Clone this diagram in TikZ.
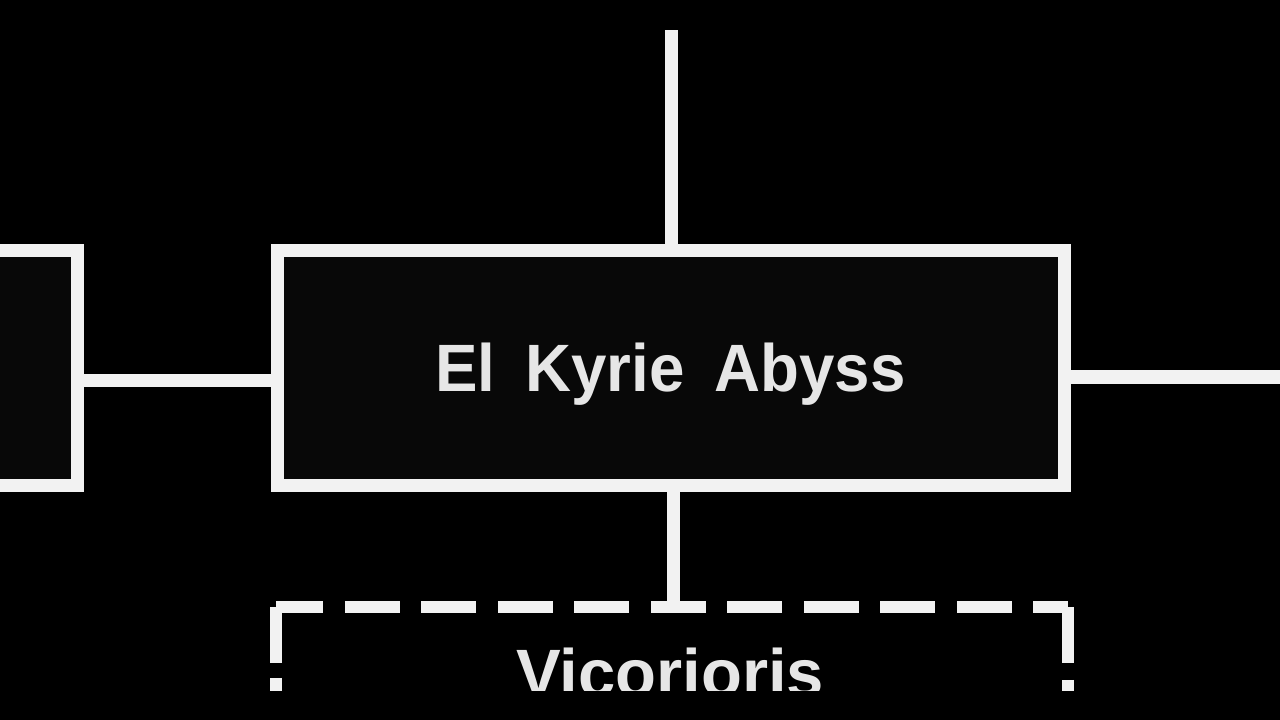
\documentclass[tikz,border=0pt]{standalone}
\usepackage{fontspec}
\newfontfamily\hv{Liberation Sans}
\newfontfamily\hvn[FakeStretch=0.95]{Liberation Sans}
\newcommand\widewords{\spaceskip=30pt\relax}
\definecolor{lineW}{HTML}{F2F2F2}
\definecolor{textW}{HTML}{E6E6E6}
\definecolor{boxBg}{HTML}{080808}
\tikzset{
  boxnode/.style={draw=lineW, fill=boxBg, line width=13pt, rectangle, inner sep=0pt},
  conn/.style={draw=lineW, line width=13pt},
  dashedge/.style={draw=lineW, line width=12pt},
  lbl/.style={text=textW, font=\hv\bfseries\fontsize{67}{80}\selectfont, inner sep=0pt},
  mainlbl/.style={text=textW, font=\hvn\bfseries\fontsize{67}{80}\selectfont\widewords, inner sep=0pt}
}
\begin{document}
\begin{tikzpicture}[x=1pt,y=-1pt]
\useasboundingbox (0,0) rectangle (1280,720);
\fill[black] (0,0) rectangle (1280,720);
\clip (0,0) rectangle (1280,690);
% nodes
\node[boxnode, mainlbl, minimum width=787pt, minimum height=235pt, text height=48pt, text depth=0pt] (main) at (670.5,367.5) {El Kyrie Abyss};
\node[boxnode, minimum width=400pt, minimum height=235pt] (leftbox) at (-123,367.5) {};
\node[rectangle, minimum width=792pt, minimum height=300pt, inner sep=0pt] (vic) at (672,757) {};
\node[lbl, anchor=base] (victext) at (670,696) {Vicorioris};
% dashed outline of lower box
\draw[dashedge, dash pattern=on 55pt off 21.5pt, dash phase=7.5pt] (vic.north west) -- (vic.north east);
\draw[dashedge, dash pattern=on 62pt off 15pt, dash phase=6pt] (vic.north west) -- (vic.south west);
\draw[dashedge, dash pattern=on 62pt off 17pt, dash phase=6pt] (vic.north east) -- (vic.south east);
% connectors
\coordinate (topend) at (671,30);
\coordinate (lc) at (0,380);
\coordinate (rc) at (1300,377);
\draw[conn] (topend) -- (topend |- main.north);
\draw[conn] ([xshift=3pt]main.south) -- ([xshift=3pt]main.south |- vic.north);
\draw[conn] (main.west |- lc) -- (leftbox.east |- lc);
\draw[conn, line width=14pt] (main.east |- rc) -- (rc);
\end{tikzpicture}
\end{document}
